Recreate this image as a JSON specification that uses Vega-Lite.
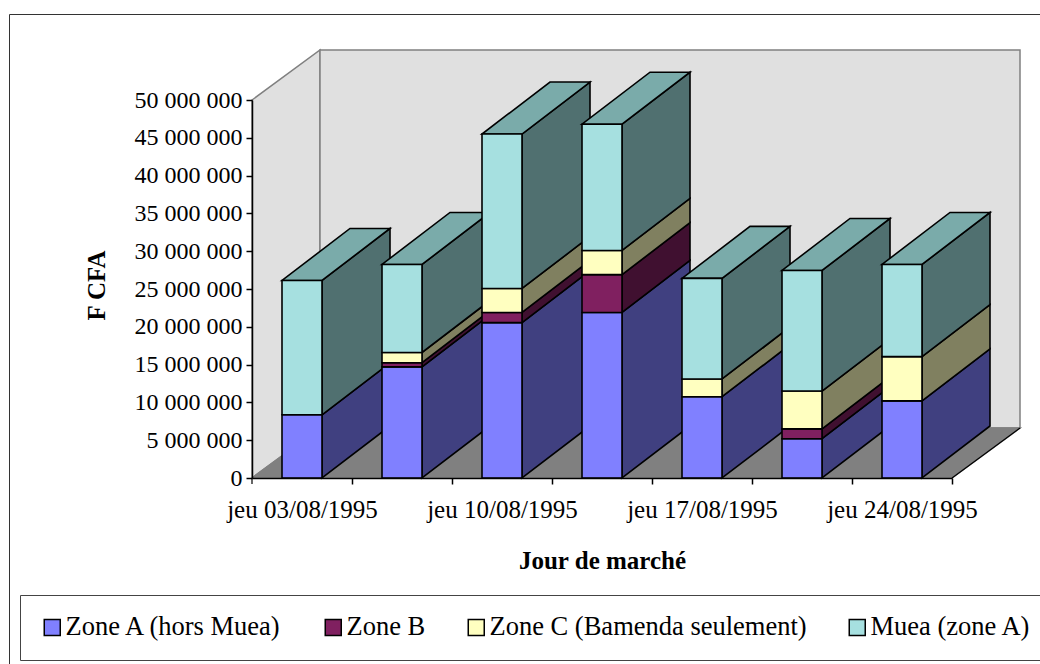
{"$schema":"https://vega.github.io/schema/vega-lite/v6.json","width":1031,"height":650,"padding":{"left":9,"top":14,"right":0,"bottom":0},"autosize":{"type":"none"},"background":"white","config":{"view":{"stroke":"#333333","strokeWidth":1},"font":"Liberation Serif"},
"datasets":{"rows":[
{"date":"jeu 03/08/1995","series":"Zone A (hors Muea)","rang":1,"value":8360000},
{"date":"jeu 03/08/1995","series":"Muea (zone A)","rang":4,"value":17770000},
{"date":"lun 07/08/1995","series":"Zone A (hors Muea)","rang":1,"value":14700000},
{"date":"lun 07/08/1995","series":"Zone B","rang":2,"value":550000},
{"date":"lun 07/08/1995","series":"Zone C (Bamenda seulement)","rang":3,"value":1350000},
{"date":"lun 07/08/1995","series":"Muea (zone A)","rang":4,"value":11650000},
{"date":"jeu 10/08/1995","series":"Zone A (hors Muea)","rang":1,"value":20550000},
{"date":"jeu 10/08/1995","series":"Zone B","rang":2,"value":1350000},
{"date":"jeu 10/08/1995","series":"Zone C (Bamenda seulement)","rang":3,"value":3170000},
{"date":"jeu 10/08/1995","series":"Muea (zone A)","rang":4,"value":20430000},
{"date":"lun 14/08/1995","series":"Zone A (hors Muea)","rang":1,"value":21900000},
{"date":"lun 14/08/1995","series":"Zone B","rang":2,"value":5000000},
{"date":"lun 14/08/1995","series":"Zone C (Bamenda seulement)","rang":3,"value":3200000},
{"date":"lun 14/08/1995","series":"Muea (zone A)","rang":4,"value":16700000},
{"date":"jeu 17/08/1995","series":"Zone A (hors Muea)","rang":1,"value":10750000},
{"date":"jeu 17/08/1995","series":"Zone C (Bamenda seulement)","rang":3,"value":2350000},
{"date":"jeu 17/08/1995","series":"Muea (zone A)","rang":4,"value":13300000},
{"date":"lun 21/08/1995","series":"Zone A (hors Muea)","rang":1,"value":5200000},
{"date":"lun 21/08/1995","series":"Zone B","rang":2,"value":1300000},
{"date":"lun 21/08/1995","series":"Zone C (Bamenda seulement)","rang":3,"value":5000000},
{"date":"lun 21/08/1995","series":"Muea (zone A)","rang":4,"value":15950000},
{"date":"jeu 24/08/1995","series":"Zone A (hors Muea)","rang":1,"value":10200000},
{"date":"jeu 24/08/1995","series":"Zone C (Bamenda seulement)","rang":3,"value":5850000},
{"date":"jeu 24/08/1995","series":"Muea (zone A)","rang":4,"value":12200000}],
"shell":[
{"face":"a-left","date":"jeu 03/08/1995","level":50000000,"k":0,"corner":4},
{"face":"a-left","date":"jeu 03/08/1995","level":50000000,"k":1,"corner":5},
{"face":"a-left","date":"jeu 03/08/1995","level":0,"k":2,"corner":5},
{"face":"a-left","date":"jeu 03/08/1995","level":0,"k":3,"corner":4},
{"face":"b-back","date":"jeu 03/08/1995","level":50000000,"k":0,"corner":5},
{"face":"b-back","date":"jeu 24/08/1995","level":50000000,"k":1,"corner":6},
{"face":"b-back","date":"jeu 24/08/1995","level":0,"k":2,"corner":6},
{"face":"b-back","date":"jeu 03/08/1995","level":0,"k":3,"corner":5},
{"face":"c-floor","date":"jeu 03/08/1995","level":0,"k":0,"corner":4},
{"face":"c-floor","date":"jeu 24/08/1995","level":0,"k":1,"corner":7},
{"face":"c-floor","date":"jeu 24/08/1995","level":0,"k":2,"corner":6},
{"face":"c-floor","date":"jeu 03/08/1995","level":0,"k":3,"corner":5}],
"edge":[
{"seg":"floor","date":"jeu 24/08/1995","level":0,"k":0,"corner":7},
{"seg":"floor","date":"jeu 24/08/1995","level":0,"k":1,"corner":6},
{"seg":"tick","date":"jeu 03/08/1995","level":0,"k":0,"corner":4},
{"seg":"tick","date":"jeu 03/08/1995","level":-800000,"k":1,"corner":4}]},
"layer":[
{"data":{"name":"shell"},"transform":[{"calculate":"datum.level+[0,0,52,52,0,50,50,0][datum.corner]*50000000/378","as":"yv"}],"mark":{"type":"line","interpolate":"linear-closed","strokeWidth":1.5,"stroke":"#808080"},
"encoding":{
"x":{"field":"date","type":"nominal","sort":null,"bandPosition":0,"title":"Jour de marché","scale":{"type":"band","domain":["jeu 03/08/1995","lun 07/08/1995","jeu 10/08/1995","lun 14/08/1995","jeu 17/08/1995","lun 21/08/1995","jeu 24/08/1995"],"range":[243,943],"paddingInner":0.6,"paddingOuter":0.3}},
"xOffset":{"field":"corner","type":"quantitative","scale":{"domain":[0,1,2,3,4,5,6,7],"range":[0,40,108,68,-30,38,138,70]}},
"y":{"field":"yv","type":"quantitative","title":"F CFA","scale":{"domain":[0,50000000],"range":[464,86],"nice":false}},
"detail":{"field":"face"},
"order":{"field":"k"},
"fill":{"field":"face","type":"nominal","legend":null,"scale":{"domain":["a-left","b-back","c-floor"],"range":["#E0E0E0","#E0E0E0","#808080"]}}}},
{"data":{"name":"edge"},"transform":[{"calculate":"datum.level+[0,0,52,52,0,50,50,0][datum.corner]*50000000/378","as":"yv"}],"mark":{"type":"line","strokeWidth":1.2,"stroke":"black"},
"encoding":{
"x":{"field":"date","type":"nominal","sort":null,"bandPosition":0,"title":"Jour de marché"},
"xOffset":{"field":"corner","type":"quantitative"},
"y":{"field":"yv","type":"quantitative","title":"F CFA"},
"detail":{"field":"seg"},
"order":{"field":"k"}}},
{"data":{"name":"rows"},"transform":[{"stack":"value","groupby":["date"],"sort":[{"field":"rang"}],"as":["y0","y1"]},{"calculate":"[0,1,2,3]","as":"k"},{"flatten":["k"]},{"calculate":"[1,2,2,1][datum.k]","as":"corner"},{"calculate":"(datum.k<2?datum.y1:datum.y0)+[0,0,52,52][datum.corner]*50000000/378","as":"yv"}],
"mark":{"type":"line","interpolate":"linear-closed","stroke":"black","strokeWidth":1.6},
"encoding":{
"x":{"field":"date","type":"nominal","sort":null,"bandPosition":0,"title":"Jour de marché"},
"xOffset":{"field":"corner","type":"quantitative"},
"y":{"field":"yv","type":"quantitative","title":"F CFA"},
"detail":[{"field":"date"},{"field":"series"}],
"order":{"field":"k"},
"fill":{"field":"series","type":"nominal","legend":null,"scale":{"domain":["Zone A (hors Muea)","Zone B","Zone C (Bamenda seulement)","Muea (zone A)"],"range":["#404080","#401030","#808060","#507070"]}}}},
{"data":{"name":"rows"},"transform":[{"stack":"value","groupby":["date"],"sort":[{"field":"rang"}],"as":["y0","y1"]},{"filter":"datum.rang==4"},{"calculate":"[0,1,2,3]","as":"corner"},{"flatten":["corner"]},{"calculate":"datum.y1+[0,0,52,52][datum.corner]*50000000/378","as":"yv"}],
"mark":{"type":"line","interpolate":"linear-closed","stroke":"black","strokeWidth":1.6,"fill":"#7AABAA"},
"encoding":{
"x":{"field":"date","type":"nominal","sort":null,"bandPosition":0,"title":"Jour de marché"},
"xOffset":{"field":"corner","type":"quantitative"},
"y":{"field":"yv","type":"quantitative","title":"F CFA"},
"detail":{"field":"date"},
"order":{"field":"corner"}}},
{"data":{"name":"rows"},"transform":[{"stack":"value","groupby":["date"],"sort":[{"field":"rang"}],"as":["y0","y1"]}],
"mark":{"type":"bar","stroke":"black","strokeWidth":1.6,"width":40},
"encoding":{
"x":{"field":"date","type":"nominal","sort":null,"title":"Jour de marché","axis":{"zindex":1,"offset":-186,"bandPosition":1,"tickOffset":30,"tickExtra":false,"labelAngle":0,"labelAlign":"center","labelBaseline":"top","labelOffset":-30,"labelOverlap":false,"labelExpr":"slice(datum.label,0,3)=='jeu'?datum.label:''","labelFontSize":25,"labelFont":"Liberation Serif","labelColor":"black","labelPadding":13,"labelLimit":300,"tickColor":"black","tickSize":6,"tickWidth":1.5,"domainColor":"black","domainWidth":1.5,"titleFontSize":25,"titleFont":"Liberation Serif","titleFontWeight":"bold","titleColor":"black","titleX":593,"titleY":90,"titleAlign":"center","titleBaseline":"alphabetic"}},
"y":{"field":"y1","type":"quantitative","title":"F CFA","axis":{"zindex":1,"offset":-243,"grid":false,"values":[0,5000000,10000000,15000000,20000000,25000000,30000000,35000000,40000000,45000000,50000000],"labelExpr":"replace(format(datum.value,','),/,/g,' ')","labelFontSize":24,"labelFont":"Liberation Serif","labelColor":"black","labelPadding":4,"tickColor":"black","tickSize":6,"tickWidth":1.5,"domainColor":"black","domainWidth":1.5,"titleFontSize":25,"titleFont":"Liberation Serif","titleFontWeight":"bold","titleColor":"black","titleX":-148,"titleY":271,"titleAngle":-90,"titleAlign":"center","titleBaseline":"alphabetic"}},
"y2":{"field":"y0"},
"color":{"field":"series","type":"nominal","scale":{"domain":["Zone A (hors Muea)","Zone B","Zone C (Bamenda seulement)","Muea (zone A)"],"range":["#8080FF","#802060","#FFFFC0","#A6E0E0"]},
"legend":{"title":null,"orient":"none","legendX":11,"legendY":581,"direction":"horizontal","columns":4,"columnPadding":37,"padding":19,"strokeColor":"#444444","fillColor":"white","symbolType":"square","symbolSize":256,"symbolStrokeColor":"black","symbolStrokeWidth":1.5,"labelFontSize":26.5,"labelFont":"Liberation Serif","labelColor":"black","labelOffset":0,"labelLimit":400}}}}
],
"resolve":{"scale":{"fill":"independent"}}}
